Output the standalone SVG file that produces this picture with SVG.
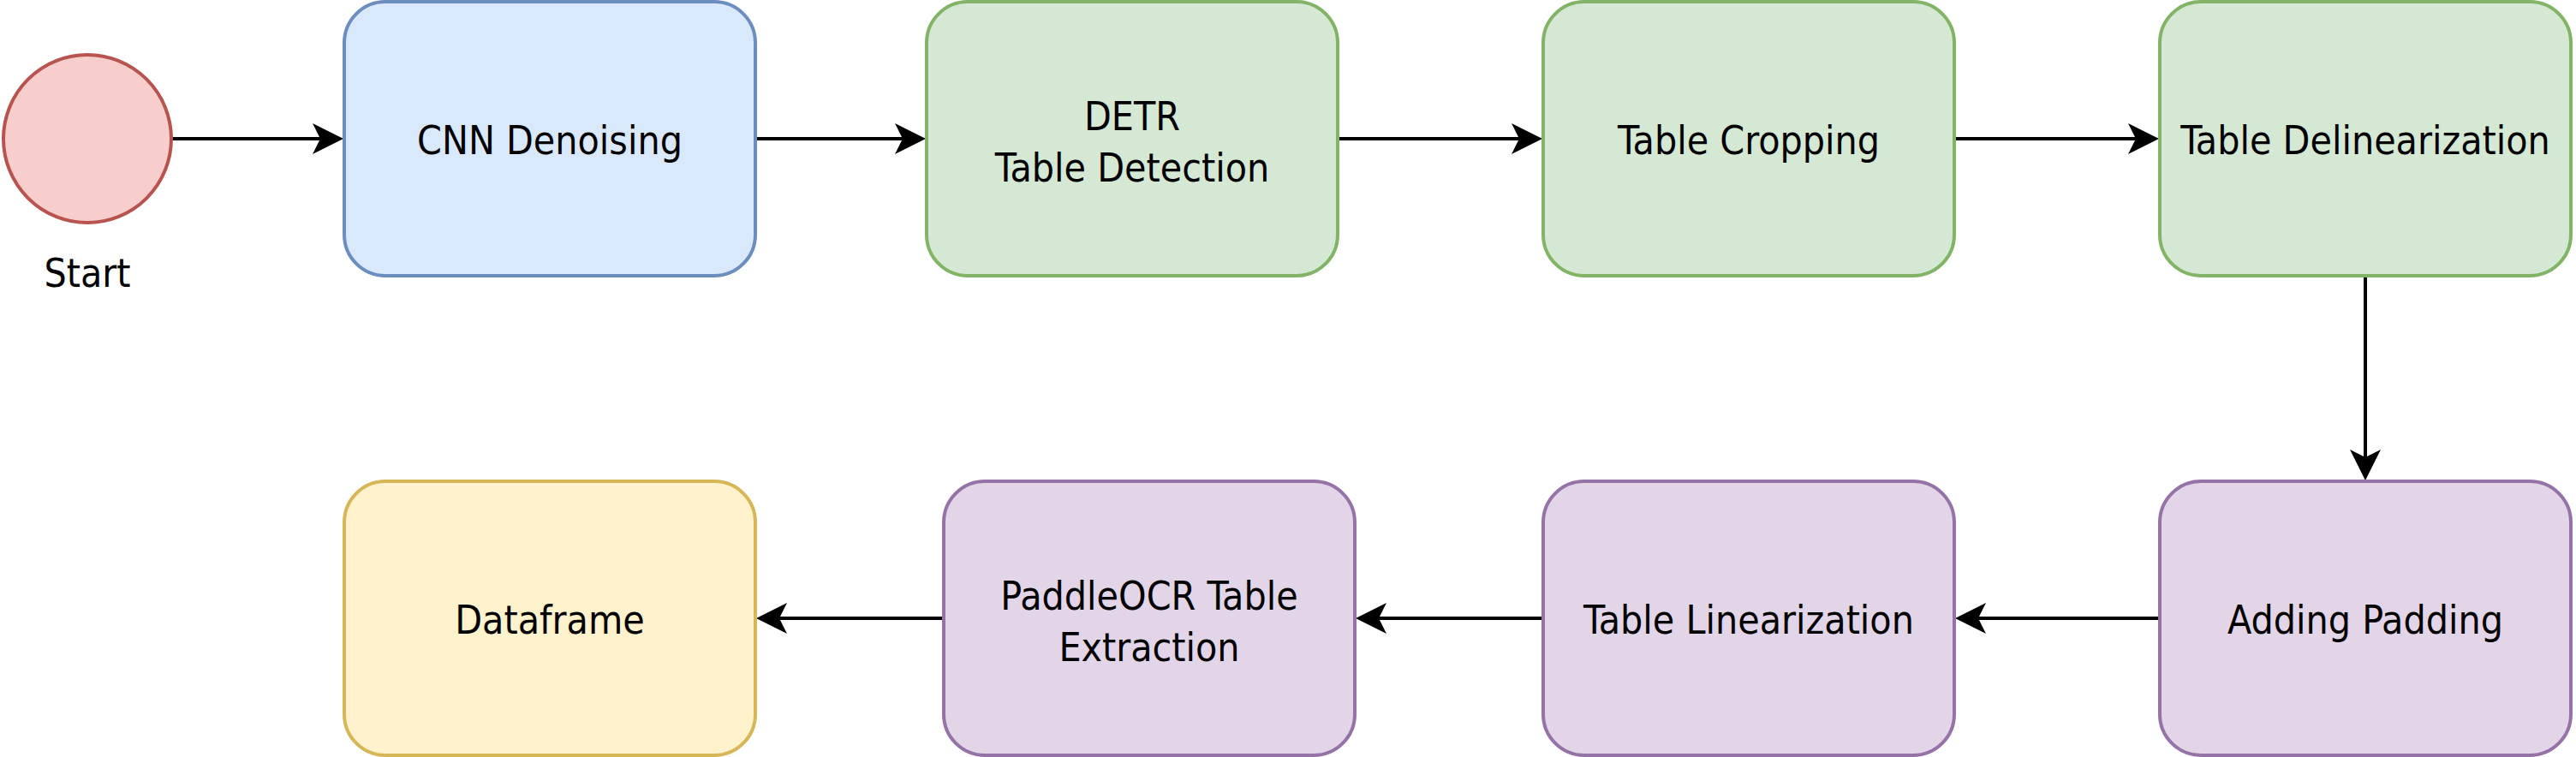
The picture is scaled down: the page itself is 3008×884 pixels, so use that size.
<svg xmlns="http://www.w3.org/2000/svg" width="3008" height="884" viewBox="0 0 3008 884">
  <style>
    .box { stroke-width: 4; }
    .blue { fill: #dae8fc; stroke: #6c8ebf; }
    .green { fill: #d5e8d4; stroke: #82b366; }
    .purple { fill: #e1d5e7; stroke: #9673a6; }
    .yellow { fill: #fff2cc; stroke: #d6b656; }
    .red { fill: #f8cecc; stroke: #b85450; }
    text { font-family: "DejaVu Sans Condensed", "DejaVu Sans", sans-serif; font-stretch: condensed; font-size: 46px; fill: #000000; text-anchor: middle; }
    .edge { stroke: #000000; stroke-width: 4; fill: none; marker-end: url(#arrow); }
  </style>
  <defs>
    <marker id="arrow" markerUnits="userSpaceOnUse" markerWidth="36" markerHeight="36" viewBox="0 0 36 36" refX="9" refY="18" orient="auto">
      <path d="M0,0 L36,18 L0,36 L9,18 Z" fill="#000000"/>
    </marker>
  </defs>
  <rect width="3008" height="884" fill="#ffffff"/>

  <g id="connectors">
    <line class="edge" x1="202" y1="162" x2="374" y2="162"/>
    <line class="edge" x1="884" y1="162" x2="1054" y2="162"/>
    <line class="edge" x1="1564" y1="162" x2="1774" y2="162"/>
    <line class="edge" x1="2284" y1="162" x2="2494" y2="162"/>
    <line class="edge" x1="2762" y1="324" x2="2762" y2="534"/>
    <line class="edge" x1="2520" y1="722" x2="2310" y2="722"/>
    <line class="edge" x1="1800" y1="722" x2="1610" y2="722"/>
    <line class="edge" x1="1100" y1="722" x2="910" y2="722"/>
  </g>

  <g id="start">
    <circle class="box red" cx="102" cy="162" r="98"/>
    <text x="102" y="335">Start</text>
  </g>
  <g id="cnn-denoising">
    <rect class="box blue" x="402" y="2" width="480" height="320" rx="48" ry="48"/>
    <text x="642" y="180">CNN Denoising</text>
  </g>
  <g id="detr-table-detection">
    <rect class="box green" x="1082" y="2" width="480" height="320" rx="48" ry="48"/>
    <text x="1322" y="152">DETR</text>
    <text x="1322" y="212">Table Detection</text>
  </g>
  <g id="table-cropping">
    <rect class="box green" x="1802" y="2" width="480" height="320" rx="48" ry="48"/>
    <text x="2042" y="180">Table Cropping</text>
  </g>
  <g id="table-delinearization">
    <rect class="box green" x="2522" y="2" width="480" height="320" rx="48" ry="48"/>
    <text x="2762" y="180">Table Delinearization</text>
  </g>
  <g id="adding-padding">
    <rect class="box purple" x="2522" y="562" width="480" height="320" rx="48" ry="48"/>
    <text x="2762" y="740">Adding Padding</text>
  </g>
  <g id="table-linearization">
    <rect class="box purple" x="1802" y="562" width="480" height="320" rx="48" ry="48"/>
    <text x="2042" y="740">Table Linearization</text>
  </g>
  <g id="paddleocr-table-extraction">
    <rect class="box purple" x="1102" y="562" width="480" height="320" rx="48" ry="48"/>
    <text x="1342" y="712">PaddleOCR Table</text>
    <text x="1342" y="772">Extraction</text>
  </g>
  <g id="dataframe">
    <rect class="box yellow" x="402" y="562" width="480" height="320" rx="48" ry="48"/>
    <text x="642" y="740">Dataframe</text>
  </g>
</svg>
